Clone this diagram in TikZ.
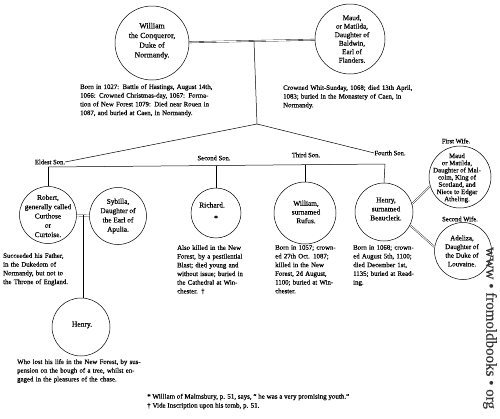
\documentclass[tikz,border=0pt]{standalone}
\usepackage{fontspec}
\setmainfont{Liberation Serif}[UprightFeatures={FakeBold=0.35}]
\newcommand\bodyfnt{\fontsize{6.8}{8.7}\selectfont}
\newcommand\circfnt{\fontsize{7.5}{9.4}\selectfont}
\newcommand\smallcirc{\fontsize{6.8}{7.2}\selectfont}
\newcommand\lblfnt{\fontsize{6.6}{8}\selectfont}
\newcommand\fnfnt{\fontsize{7}{8}\selectfont}
\newcommand\jl[1]{\makebox[\hsize][s]{#1}\\}
\newcommand\jlast[1]{\makebox[\hsize][s]{#1}}
\begin{document}
\begin{tikzpicture}[x=1pt,y=-1pt,
  person/.style={circle,draw,line width=0.5pt,minimum size=#1,inner sep=0pt},
  ctext/.style={align=center,font=\circfnt,inner sep=0pt},
  lbl/.style={font=\lblfnt,inner sep=0pt},
  body/.style={anchor=north west,inner sep=0pt,text width=#1,align=left,font=\bodyfnt},
  ln/.style={line width=0.5pt},
  marr/.style={double,double distance=0.9pt,line width=0.35pt},
  fn/.style={anchor=west,inner sep=0pt,font=\fnfnt}]
\useasboundingbox (0,0) rectangle (500,418);

% parents
\node[person=74pt] (wm) at (152,43) {};
\node[ctext,font=\fontsize{7.8}{9.7}\selectfont] (wmT) at (152,41) {William\\the Conqueror,\\Duke of\\Normandy.};
\node[person=70pt] (maud) at (350,39) {};
\node[ctext,font=\fontsize{7.2}{8.5}\selectfont] (maudT) at (352,39) {Maud,\\or Matilda,\\Daughter of\\Baldwin,\\Earl of\\Flanders.};
\draw[marr] (wm) -- (maud);
\coordinate (mid) at (254,41);
\coordinate (apex) at (257,124);
\draw[ln] (mid) -- (apex);

\node[body=142pt] (wmB) at (80,84) {\jl{Born in 1027: Battle of Hastings, August 14th,}\jl{1066: Crowned Christmas-day, 1067: Forma-}\jl{tion of New Forest 1079: Died near Rouen in}1087, and buried at Caen, in Normandy.};
\node[body=144pt] (maudB) at (283,85) {\jl{Crowned Whit-Sunday, 1068; died 13th April,}\jl{1083; buried in the Monastery of Caen, in}Normandy.};

% son labels and bus
\node[lbl] (s1) at (50,162) {Eldest Son.};
\node[lbl] (s2) at (214,158) {Second Son.};
\node[lbl] (s3) at (306,155) {Third Son.};
\node[lbl] (s4) at (390,153) {Fourth Son.};
\draw[ln] (apex) -- (s1.east);
\draw[ln] (apex) -- (s4.west);
\coordinate (b1) at (48,167);
\coordinate (b2) at (216,165.5);
\coordinate (b3) at (305,164.8);
\coordinate (b4) at (385,164);
\draw[ln] (b1) -- (b4);

% sons
\node[person=57pt] (robert) at (48,215) {};
\node[ctext,font=\fontsize{7.3}{9.3}\selectfont] (robertT) at (48,216) {Robert,\\generally called\\Curthose\\or\\Curtoise.};
\node[person=57pt] (syb) at (118,216) {};
\node[ctext,font=\fontsize{7.3}{9.3}\selectfont] (sybT) at (118,216) {Sybilla,\\Daughter of\\the Earl of\\Apulia.};
\draw[marr] (robert) -- (syb);
\coordinate (rs) at (83,215.4);

\node[person=50pt] (rich) at (216,213) {};
\node[ctext] (richT) at (212,205) {Richard.};
\node[ctext] (richS) at (216,218) {*};

\node[person=62pt] (rufus) at (305,213) {};
\node[ctext,font=\fontsize{7.3}{8.7}\selectfont] (rufusT) at (306,212) {William,\\surnamed\\Rufus.};

\node[person=58pt] (henB) at (384,212) {};
\node[ctext,font=\fontsize{7.3}{9}\selectfont] (henBT) at (386,209) {Henry,\\surnamed\\Beauclerk.};

\draw[ln] (b1) -- (robert.north);
\draw[ln] (b2) -- (rich.north);
\draw[ln] (b3) -- (rufus.north);
\draw[ln] (b4) -- (henB.north);

% wives of Henry
\node[lbl] (w1) at (456,141) {First Wife.};
\node[person=62pt] (maud2) at (460,177) {};
\node[ctext,font=\smallcirc] (maud2T) at (457,178) {Maud\\or Matilda,\\Daughter of Mal-\\colm, King of\\Scotland, and\\Niece to Edgar\\Atheling.};
\node[lbl] (w2) at (460,219) {Second Wife.};
\node[person=57pt] (adel) at (463,251) {};
\node[ctext,font=\fontsize{7}{8.7}\selectfont] (adelT) at (462,251) {Adeliza,\\Daughter of\\the Duke of\\Louvaine.};
\draw[marr] (henB.16) -- (maud2.197);
\draw[marr] (henB.-27) -- (adel.172);

% grandson
\node[person=58pt] (henS) at (81,327) {};
\node[ctext] (henST) at (82,325) {Henry.};
\draw[ln] (rs) -- (rs |- henS.north);

% body texts
\node[body=72pt] (robB) at (3,253) {\jl{Succeeded his Father,}\jl{in the Dukedom of}\jl{Normandy, but not to}\jlast{the Throne of England.}};
\node[body=135pt] (henSB) at (17,359) {\jl{Who lost his life in the New Forest, by sus-}\jl{pension on the bough of a tree, whilst en-}gaged in the pleasures of the chase.};
\node[body=77pt] (richB) at (177,245) {\jl{Also killed in the New}\jl{Forest, by a pestilential}\jl{Blast; died young and}\jl{without issue; buried in}\jl{the Cathedral at Win-}chester. †};
\node[body=64pt] (rufusB) at (275,245) {\jl{Born in 1057; crown-}\jl{ed 27th Oct. 1087;}\jl{killed in the New}\jl{Forest, 2d August,}\jl{1100; buried at Win-}chester.};
\node[body=59pt] (henBB) at (353,245) {\jl{Born in 1068; crown-}\jl{ed August 5th, 1100;}\jl{died December 1st,}\jl{1135; buried at Read-}ing.};

% footnotes
\node[fn] (fn1) at (147,397) {* William of Malmsbury, p. 51, says, “ he was a very promising youth.”};
\node[fn] (fn2) at (147,406) {† Vide Inscription upon his tomb, p. 51.};

% watermark
\node[rotate=-90,font=\fontsize{15}{15}\selectfont,text=black!80,inner sep=0pt] (wmark) at (490,328) {www • fromoldbooks • org};
\end{tikzpicture}
\end{document}
